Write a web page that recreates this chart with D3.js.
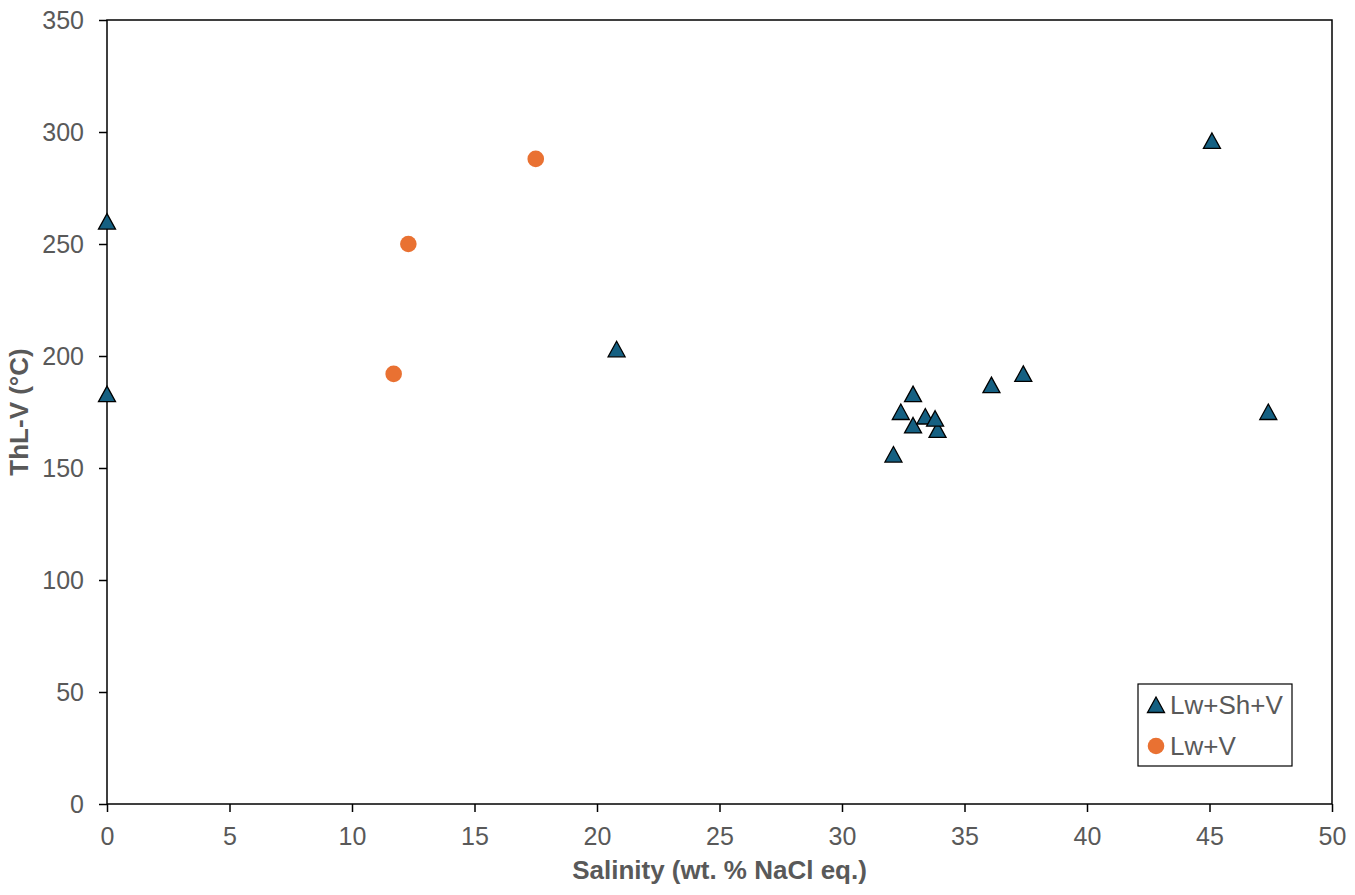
<!DOCTYPE html>
<html>
<head>
<meta charset="utf-8">
<title>ThL-V vs Salinity</title>
<script src="https://cdn.jsdelivr.net/npm/d3@7"></script>
<style>
  body { margin: 0; background: #fff; }
  text { font-family: "Liberation Sans", Arial, sans-serif; }
</style>
</head>
<body>
<div class="box"></div>
<script>
// Lw+Sh+V inclusions
var shSalinity = [0, 0, 20.8, 32.1, 32.4, 32.9, 32.9, 33.4, 33.9, 33.8, 36.1, 37.4, 45.1, 47.4];
var shTemp     = [260, 183, 203, 156, 175, 183, 169, 173, 167, 172, 187, 192, 296, 175];
// Lw+V inclusions
var lvSalinity = [11.7, 12.3, 17.5];
var lvTemp     = [192, 250, 288];

var xTicks = [0, 5, 10, 15, 20, 25, 30, 35, 40, 45, 50];
var yTicks = [0, 50, 100, 150, 200, 250, 300, 350];
var seriesNames = ["Lw+Sh+V", "Lw+V"];

var width = 1355, height = 895;
var margin = {top: 20, right: 23, bottom: 91, left: 107};
var w = width - margin.left - margin.right;
var h = height - margin.top - margin.bottom;
var textColor = "#595959";
var blue = "#156082", orange = "#E97132";

var x = d3.scaleLinear().domain([0, 50]).range([0, w]);
var y = d3.scaleLinear().domain([0, 350]).range([h, 0]);

var svg = d3.select("div.box").append("svg")
    .attr("width", width)
    .attr("height", height);
var g = svg.append("g")
    .attr("transform", "translate(" + margin.left + "," + margin.top + ")");

var xAxis = g.append("g")
    .attr("transform", "translate(0," + h + ")")
    .call(d3.axisBottom(x).tickValues(xTicks).tickSize(8).tickSizeOuter(0).tickPadding(15));
var yAxis = g.append("g")
    .call(d3.axisLeft(y).tickValues(yTicks).tickSize(8).tickSizeOuter(0).tickPadding(15));

[xAxis, yAxis].forEach(function(a) {
    a.select(".domain").remove();
    a.selectAll("line").attr("stroke", "#000").attr("stroke-width", 1.5);
    a.selectAll("text")
        .attr("fill", textColor)
        .style("font-size", "25px")
        .style("font-family", "'Liberation Sans', Arial, sans-serif");
});

// plot frame
g.append("rect")
    .attr("width", w)
    .attr("height", h)
    .attr("fill", "none")
    .attr("stroke", "#000")
    .attr("stroke-width", 1.5);

// axis titles
g.append("text")
    .attr("x", w / 2)
    .attr("y", h + 75)
    .attr("text-anchor", "middle")
    .attr("fill", textColor)
    .style("font-size", "26px")
    .style("font-weight", "bold")
    .text("Salinity (wt. % NaCl eq.)");

g.append("text")
    .attr("transform", "translate(" + (28 - margin.left) + "," + (h / 2) + ") rotate(-90)")
    .attr("text-anchor", "middle")
    .attr("fill", textColor)
    .style("font-size", "26px")
    .style("font-weight", "bold")
    .text("ThL-V (\u00B0C)");

var triPath = "M0,-8L8.5,7.5L-8.5,7.5Z";

var shData = shSalinity.map(function(s, i) { return {x: s, y: shTemp[i]}; });
var lvData = lvSalinity.map(function(s, i) { return {x: s, y: lvTemp[i]}; });

g.selectAll("path.tri")
    .data(shData)
    .enter()
    .append("path")
    .attr("class", "tri")
    .attr("d", triPath)
    .attr("transform", function(d) { return "translate(" + x(d.x) + "," + y(d.y) + ")"; })
    .attr("fill", blue)
    .attr("stroke", "#000")
    .attr("stroke-width", 1.3);

g.selectAll("circle.dot")
    .data(lvData)
    .enter()
    .append("circle")
    .attr("class", "dot")
    .attr("cx", function(d) { return x(d.x); })
    .attr("cy", function(d) { return y(d.y); })
    .attr("r", 8.3)
    .attr("fill", orange);

// legend
var legend = svg.append("g").attr("transform", "translate(1138,684)");
legend.append("rect")
    .attr("width", 154)
    .attr("height", 82)
    .attr("fill", "#fff")
    .attr("stroke", "#000")
    .attr("stroke-width", 1.2);
legend.append("path")
    .attr("d", triPath)
    .attr("transform", "translate(18,21)")
    .attr("fill", blue)
    .attr("stroke", "#000")
    .attr("stroke-width", 1.3);
legend.append("circle")
    .attr("cx", 18)
    .attr("cy", 62)
    .attr("r", 8.3)
    .attr("fill", orange);
legend.selectAll("text")
    .data(seriesNames)
    .enter()
    .append("text")
    .attr("x", 32)
    .attr("y", function(d, i) { return 30 + i * 41; })
    .attr("fill", textColor)
    .style("font-size", "26px")
    .text(function(d) { return d; });
</script>
</body>
</html>
